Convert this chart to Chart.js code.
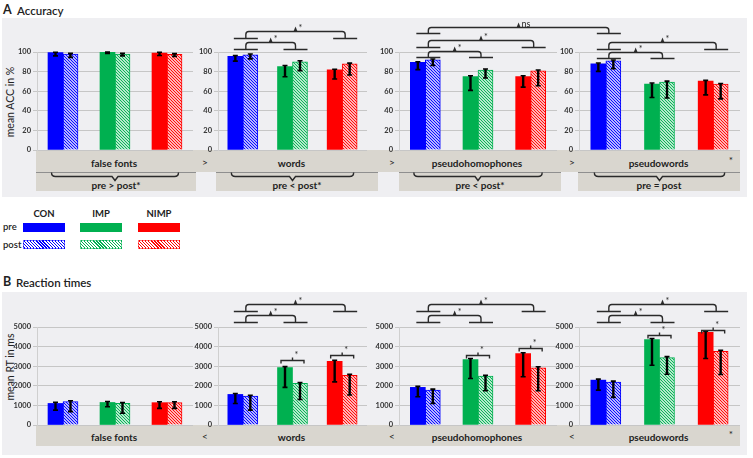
<!DOCTYPE html>
<html><head><meta charset="utf-8">
<script src="https://cdn.jsdelivr.net/npm/chart.js@4.4.1/dist/chart.umd.min.js"></script>
<style>
body{margin:0;background:#fff;font-family:Lato,'Open Sans',sans-serif;}
#root{position:relative;width:753px;height:458px;overflow:hidden;background:#fff;}
.bg{position:absolute;background:#efeff2;}
.band{position:absolute;background:#d9d6cf;}
.t{position:absolute;white-space:nowrap;color:#222;font-weight:700;font-size:10px;transform:translate(-50%,-50%);line-height:1;}
.l{position:absolute;white-space:nowrap;color:#222;font-weight:700;line-height:1;}
canvas{position:absolute;}
.sw{position:absolute;height:9px;}
</style></head><body><div id="root"></div>
<script>
// ---------- data ----------
const groups = ['CON', 'IMP', 'NIMP'];
const sessions = ['pre', 'post'];
const conditions = ['false fonts', 'words', 'pseudohomophones', 'pseudowords'];
const groupColors = ['#0000ff', '#00b050', '#ff0000'];

// Accuracy (%) per condition: [CON, IMP, NIMP]
const accPre  = [[99.3, 99.6, 99.0], [95.5, 85.2, 81.7], [89.4, 75.0, 75.0], [88.0, 67.2, 70.3]];
const accPost = [[98.0, 98.0, 97.5], [97.2, 90.0, 88.0], [92.0, 81.6, 80.9], [91.1, 69.3, 67.2]];
const accPreLo  = [[96.0, 98.5, 96.5], [90.7, 74.8, 72.4], [82.0, 60.8, 64.2], [80.2, 53.6, 56.3]];
const accPreHi  = [[99.8, 100, 99.7], [96.5, 86.2, 82.4], [90.0, 75.8, 75.8], [88.7, 68.3, 71.0]];
const accPostLo = [[94.5, 96.0, 95.5], [93.0, 81.0, 76.5], [86.3, 73.4, 65.5], [82.9, 53.0, 52.2]];
const accPostHi = [[98.6, 98.6, 98.3], [98.0, 91.0, 88.6], [92.8, 82.6, 81.6], [91.8, 70.3, 67.9]];
const accTicksMax = 100, accTickStep = 10;
const accSessionTests = ['pre > post*', 'pre < post*', 'pre < post*', 'pre = post'];
const accBetween = ['>', '>', '>', '*'];

// Reaction times (ms)
const rtPre  = [[1100, 1150, 1140], [1560, 2930, 3250], [1920, 3340, 3640], [2290, 4360, 4730]];
const rtPost = [[1190, 1100, 1140], [1470, 2120, 2540], [1780, 2490, 2920], [2190, 3440, 3760]];
const rtPreLo  = [[760, 930, 850], [1100, 1920, 2200], [1440, 2370, 2460], [1780, 3050, 3390]];
const rtPreHi  = [[1160, 1200, 1190], [1610, 2980, 3300], [1970, 3390, 3690], [2340, 4410, 4780]];
const rtPostLo = [[680, 600, 850], [760, 1300, 1530], [1100, 1750, 1750], [1410, 2590, 2580]];
const rtPostHi = [[1240, 1150, 1190], [1520, 2170, 2590], [1830, 2540, 2970], [2240, 3490, 3810]];
const rtTicksMax = 5000, rtTickStep = 1000;
const rtBetween = ['<', '<', '<', '*'];

// significance brackets: [fromCondition, fromGroup, toCondition, toGroup, level, label]
const accBrackets = [
  [1, 0, 1, 1, 110, '*'], [1, 0, 1, 2, 121, '*'],
  [2, 0, 2, 1, 101, '*'], [2, 0, 2, 2, 112, '*'], [2, 0, 3, 0, 125.5, 'ns'],
  [3, 0, 3, 1, 100, '*'], [3, 0, 3, 2, 110, '*']
];
const rtBrackets = [
  [1, 0, 1, 1, 5612, '*'], [1, 0, 1, 2, 6173, '*'],
  [2, 0, 2, 1, 5612, '*'], [2, 0, 2, 2, 6173, '*'],
  [3, 0, 3, 1, 5612, '*'], [3, 0, 3, 2, 6173, '*']
];
// pre vs post brackets within a group: [condition, group, level]
const rtPairBrackets = [[1, 1, 3316], [1, 2, 3571], [2, 1, 3571], [2, 2, 3929], [3, 1, 4592], [3, 2, 4847]];

// ---------- layout ----------
const root = document.getElementById('root');
const plotX = [[37, 193], [218, 367], [399, 557], [579, 740]];
const rowA = {top: 52, bottom: 150};
const rowB = {top: 327, bottom: 425};
const AXW = 30, PAD = 8;

function div(cls, style, text) {
  const d = document.createElement('div');
  d.className = cls;
  Object.assign(d.style, style);
  if (text !== undefined) d.textContent = text;
  root.appendChild(d);
  return d;
}

// backgrounds
div('bg', {left: '2px', top: '18px', width: '745px', height: '179px'});
div('bg', {left: '2px', top: '292px', width: '745px', height: '163px'});
// bands A
div('band', {left: '36px', top: '150px', width: '704px', height: '22px'});
const lowBoxes = [[36, 196], [216, 378], [399, 561], [578, 740]];
lowBoxes.forEach(b => div('band', {left: b[0] + 'px', top: '172px', width: (b[1] - b[0]) + 'px', height: '19px', borderTop: '1px solid #8f8f8f', boxSizing: 'border-box'}));
// band B
div('band', {left: '36px', top: '425px', width: '704px', height: '21px'});

// titles
div('l', {left: '3px', top: '4px', fontSize: '12.5px'}, 'A');
div('l', {left: '17px', top: '5px', fontSize: '11.5px', fontWeight: '600'}, 'Accuracy');
div('l', {left: '3px', top: '276px', fontSize: '12.5px'}, 'B');
div('l', {left: '16px', top: '277px', fontSize: '11.5px', fontWeight: '600'}, 'Reaction times');
div('t', {left: '10px', top: '102px', transform: 'translate(-50%,-50%) rotate(-90deg)', fontWeight: '400', fontSize: '10.5px'}, 'mean ACC in %');
div('t', {left: '10px', top: '367px', transform: 'translate(-50%,-50%) rotate(-90deg)', fontWeight: '400', fontSize: '10.5px'}, 'mean RT in ms');

// hatch pattern
function hatch(color) {
  const c = document.createElement('canvas');
  c.width = 3; c.height = 3;
  const g = c.getContext('2d');
  g.fillStyle = '#ffffff'; g.fillRect(0, 0, 3, 3);
  g.strokeStyle = color; g.lineWidth = 1.1;
  g.beginPath();
  g.moveTo(-1, -1); g.lineTo(4, 4);
  g.moveTo(-1, 2); g.lineTo(1, 4);
  g.moveTo(2, -1); g.lineTo(4, 1);
  g.stroke();
  return g.createPattern(c, 'repeat');
}
const hatchPatterns = groupColors.map(hatch);
const hatchCss = c => `repeating-linear-gradient(45deg, ${c} 0px, ${c} 1px, #fff 1px, #fff 2.2px)`;

// legend
groups.forEach((g, i) => {
  const x0 = [23, 80, 138][i];
  div('t', {left: (x0 + 21) + 'px', top: '214px', fontSize: '9.5px'}, g);
  div('sw', {left: x0 + 'px', top: '223px', width: '42px', background: groupColors[i]});
  div('sw', {left: x0 + 'px', top: '240px', width: '42px', background: hatchCss(groupColors[i]), boxSizing: 'border-box', border: '1px solid ' + groupColors[i] + '88'});
});
div('l', {left: '3px', top: '222px', fontSize: '9.5px', fontWeight: '600'}, sessions[0]);
div('l', {left: '3px', top: '240px', fontSize: '9.5px', fontWeight: '600'}, sessions[1]);

// band texts
const betweenX = [205, 392, 572];
conditions.forEach((c, i) => {
  div('t', {left: ((plotX[i][0] + plotX[i][1]) / 2 - 1) + 'px', top: '163px'}, c);
  div('t', {left: ((plotX[i][0] + plotX[i][1]) / 2 - 1) + 'px', top: '437px'}, c);
  div('t', {left: ((lowBoxes[i][0] + lowBoxes[i][1]) / 2) + 'px', top: '185px'}, accSessionTests[i]);
  if (i < 3) {
    div('t', {left: betweenX[i] + 'px', top: '162px', fontWeight: '400'}, accBetween[i]);
    div('t', {left: betweenX[i] + 'px', top: '436px', fontWeight: '400'}, rtBetween[i]);
  }
});
div('t', {left: '731px', top: '160px', fontWeight: '400'}, accBetween[3]);
div('t', {left: '731px', top: '434px', fontWeight: '400'}, rtBetween[3]);

// error bar plugin
const errorBars = {
  id: 'errorBars',
  afterDatasetsDraw(chart) {
    const ctx = chart.ctx, ys = chart.scales.y;
    chart.data.datasets.forEach((ds, d) => {
      const meta = chart.getDatasetMeta(d);
      meta.data.forEach((bar, i) => {
        const x = bar.x;
        const y1 = ys.getPixelForValue(ds.errLo[i]);
        const y2 = ys.getPixelForValue(ds.errHi[i]);
        ctx.save();
        ctx.strokeStyle = '#000';
        ctx.lineWidth = 2.4;
        ctx.beginPath(); ctx.moveTo(x, y1); ctx.lineTo(x, y2); ctx.stroke();
        ctx.lineWidth = 1.6;
        ctx.beginPath();
        ctx.moveTo(x - 2.5, y1); ctx.lineTo(x + 2.5, y1);
        ctx.moveTo(x - 2.5, y2); ctx.lineTo(x + 2.5, y2);
        ctx.stroke();
        ctx.restore();
      });
    });
  }
};

function makeChart(p, row, pre, post, preLo, preHi, postLo, postHi, yMax, step) {
  const cv = document.createElement('canvas');
  const left = plotX[p][0] - AXW, top = row.top - PAD;
  const w = plotX[p][1] - plotX[p][0] + AXW, h = row.bottom - row.top + 2 * PAD;
  cv.width = w; cv.height = h;
  cv.style.left = left + 'px'; cv.style.top = top + 'px';
  cv.style.width = w + 'px'; cv.style.height = h + 'px';
  root.appendChild(cv);
  const chart = new Chart(cv, {
    type: 'bar',
    data: {
      labels: groups,
      datasets: [
        {label: sessions[0], data: pre, backgroundColor: groupColors, borderColor: groupColors, borderWidth: 0, barThickness: 15, errLo: preLo, errHi: preHi},
        {label: sessions[1], data: post, backgroundColor: hatchPatterns, borderColor: groupColors, borderWidth: 1, barThickness: 15, errLo: postLo, errHi: postHi}
      ]
    },
    options: {
      responsive: false, animation: false, devicePixelRatio: 1,
      layout: {padding: {top: PAD, bottom: PAD, left: 0, right: 0}},
      plugins: {legend: {display: false}, tooltip: {enabled: false}},
      scales: {
        x: {display: false},
        y: {
          min: 0, max: yMax,
          ticks: {stepSize: step, color: '#333', padding: 2, font: {family: 'Lato', size: 7.5, weight: 'bold'}, callback: v => String(v)},
          grid: {color: '#c6c6c6', tickLength: 4, lineWidth: 1},
          border: {display: true, color: '#cfcfcf'},
          afterFit(s) { s.width = AXW; }
        }
      }
    },
    plugins: [errorBars]
  });
  chart._off = {x: left, y: top};
  return chart;
}

const chartsA = conditions.map((c, i) => makeChart(i, rowA, accPre[i], accPost[i], accPreLo[i], accPreHi[i], accPostLo[i], accPostHi[i], accTicksMax, accTickStep));
const chartsB = conditions.map((c, i) => makeChart(i, rowB, rtPre[i], rtPost[i], rtPreLo[i], rtPreHi[i], rtPostLo[i], rtPostHi[i], rtTicksMax, rtTickStep));

// ---------- overlay for brackets ----------
const ov = document.createElement('canvas');
ov.width = 753; ov.height = 458;
ov.style.left = '0px'; ov.style.top = '0px';
root.appendChild(ov);
const o = ov.getContext('2d');
o.strokeStyle = '#2a2a2a'; o.fillStyle = '#2a2a2a'; o.lineWidth = 1.4;

function groupX(chart, g) {
  const a = chart.getDatasetMeta(0).data[g].x, b = chart.getDatasetMeta(1).data[g].x;
  return chart._off.x + (a + b) / 2;
}
function valY(chart, v) { return chart._off.y + chart.scales.y.getPixelForValue(v); }

function drawBracket(xL, xR, yTop, yEnd, label) {
  const r = 3;
  o.beginPath();
  o.moveTo(xL - 12, yEnd); o.lineTo(xL + 12, yEnd);
  o.moveTo(xR - 12, yEnd); o.lineTo(xR + 12, yEnd);
  o.moveTo(xL, yEnd); o.lineTo(xL, yTop + r); o.quadraticCurveTo(xL, yTop, xL + r, yTop);
  o.lineTo(xR - r, yTop); o.quadraticCurveTo(xR, yTop, xR, yTop + r); o.lineTo(xR, yEnd);
  o.stroke();
  const px = (xL + xR) / 2;
  o.beginPath(); o.moveTo(px - 2, yTop); o.lineTo(px, yTop - 5); o.lineTo(px + 2, yTop); o.closePath(); o.fill();
  o.font = '9px Lato'; o.textBaseline = 'middle'; o.textAlign = 'left';
  o.fillText(label, px + 3, yTop - 3);
}

function bracketSet(charts, list, drop) {
  list.forEach(([c1, g1, c2, g2, lvl, lab]) => {
    const xL = groupX(charts[c1], g1) + 3, xR = groupX(charts[c2], g2) + 3;
    const yT = valY(charts[c1], lvl), yE = valY(charts[c1], lvl - drop);
    drawBracket(xL, xR, Math.round(yT) + 0.5, Math.round(yE) + 0.5, lab);
  });
}
bracketSet(chartsA, accBrackets, 6.5);
bracketSet(chartsB, rtBrackets, 357);

rtPairBrackets.forEach(([c, g, lvl]) => {
  const ch = chartsB[c];
  const m0 = ch.getDatasetMeta(0).data[g], m1 = ch.getDatasetMeta(1).data[g];
  const xL = ch._off.x + m0.x - 4, xR = ch._off.x + m1.x + 4;
  const y = Math.round(valY(ch, lvl)) + 0.5;
  o.beginPath();
  o.moveTo(xL, y + 3); o.lineTo(xL, y); o.lineTo(xR, y); o.lineTo(xR, y + 3);
  const px = (xL + xR) / 2;
  o.moveTo(px, y); o.lineTo(px, y - 3);
  o.stroke();
  o.font = '9px Lato'; o.textBaseline = 'middle'; o.textAlign = 'left';
  o.fillText('*', px + 2, y - 5);
});

// braces in the lower band of A
chartsA.forEach((ch, i) => {
  const first = ch.getDatasetMeta(0).data[0], last = ch.getDatasetMeta(1).data[2];
  const xL = ch._off.x + first.x - 4, xR = ch._off.x + last.x + 4;
  const px = (xL + xR) / 2, y0 = 172.5, y1 = 176.5;
  o.beginPath();
  o.moveTo(xL, y0); o.quadraticCurveTo(xL, y1, xL + 4, y1);
  o.lineTo(px - 3, y1); o.lineTo(px, y1 + 4); o.lineTo(px + 3, y1);
  o.lineTo(xR - 4, y1); o.quadraticCurveTo(xR, y1, xR, y0);
  o.stroke();
});
</script></body></html>
